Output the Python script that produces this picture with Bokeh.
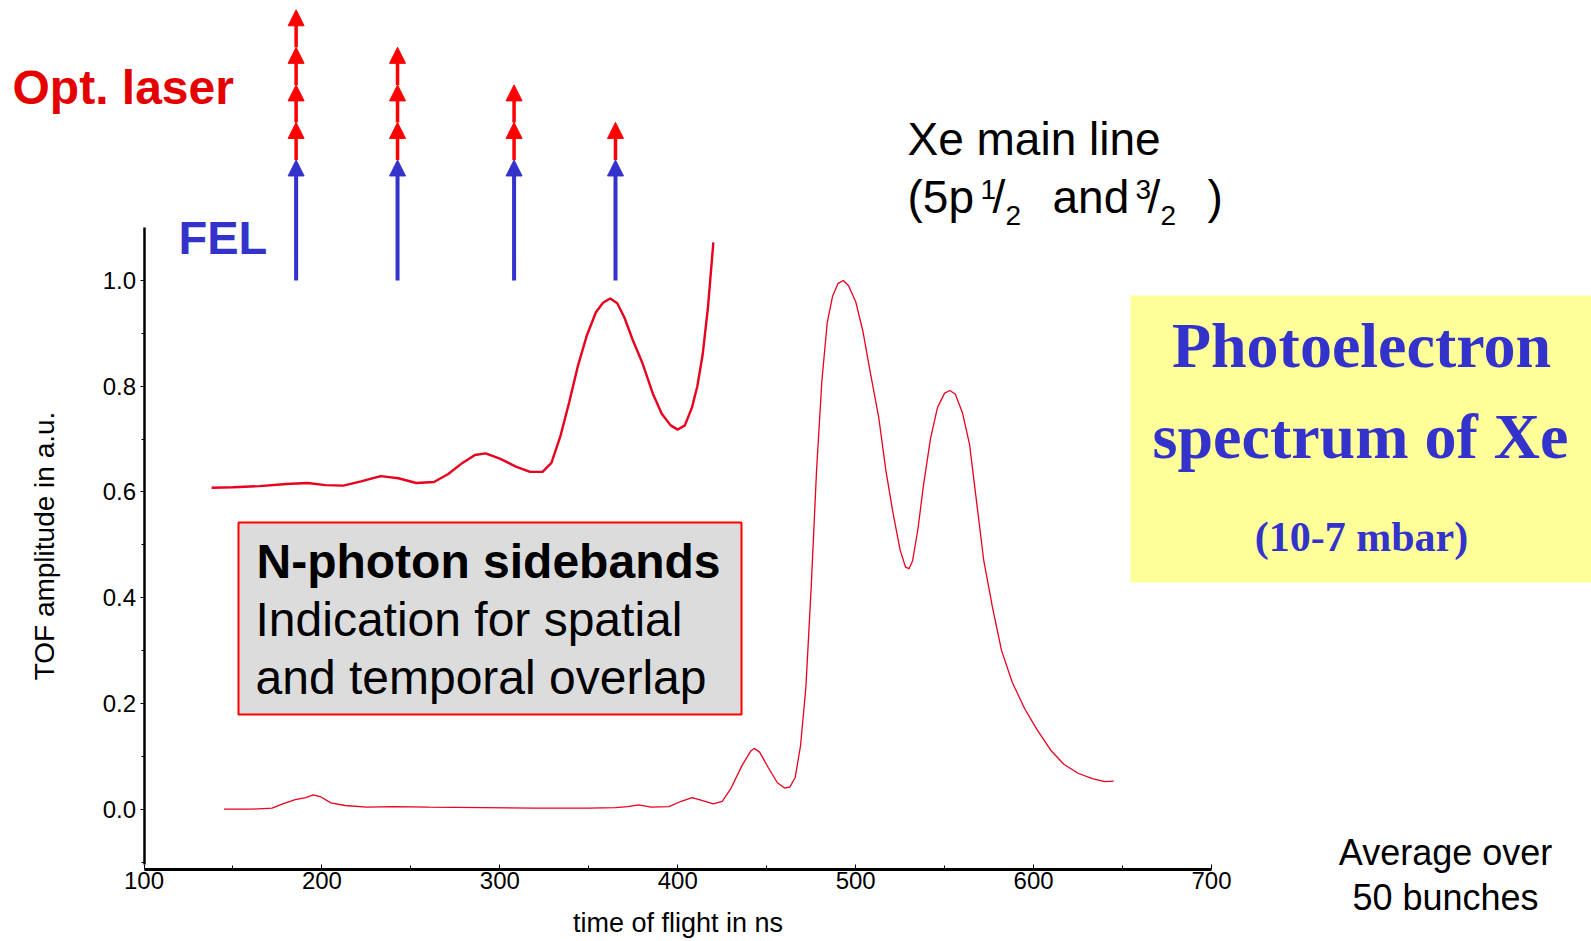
import math
from bokeh.plotting import figure
from bokeh.models import (Range1d, LinearAxis, FixedTicker, PrintfTickFormatter,
                          Arrow, NormalHead, ColumnDataSource)
from bokeh.core.properties import value
from bokeh.embed import file_html
from bokeh.resources import INLINE

# ---------------- data ----------------
# upper trace: FEL + optical laser (offset), time of flight in ns / amplitude
upper_t = [138, 150, 165, 180, 192, 202, 212, 222, 233, 243, 253, 263, 271, 279, 286,
           292, 300, 309, 317, 324, 329, 334, 339, 344, 349, 354, 358, 362, 366, 370,
           375, 380, 386, 391, 396, 400, 404, 408, 411, 414, 417, 420]
upper_a = [0.608, 0.609, 0.611, 0.615, 0.617, 0.613, 0.612, 0.620, 0.630, 0.626, 0.617,
           0.619, 0.634, 0.655, 0.670, 0.673, 0.663, 0.648, 0.638, 0.638, 0.655, 0.705,
           0.770, 0.840, 0.897, 0.940, 0.958, 0.966, 0.957, 0.930, 0.885, 0.845, 0.786,
           0.748, 0.726, 0.718, 0.726, 0.760, 0.800, 0.860, 0.950, 1.072]

# lower trace: Xe photoelectron spectrum
lower_t = [145, 160, 172, 178, 185, 191, 195, 199, 205, 213, 225, 240, 260, 290, 320,
           350, 365, 372, 378, 385, 395, 402, 408, 414, 420, 425, 430, 436, 441, 443,
           446, 451, 456, 460, 463, 466, 469, 472, 475, 478, 481, 484, 487, 490, 493,
           496, 500, 504, 508, 513, 517, 521, 525, 528, 530, 532, 535, 538, 542, 546,
           550, 553, 556, 560, 564, 568, 572, 577, 582, 588, 595, 602, 610, 617, 625,
           633, 640, 645]
lower_a = [0.000, 0.000, 0.002, 0.010, 0.018, 0.022, 0.027, 0.024, 0.012, 0.007, 0.004,
           0.005, 0.004, 0.003, 0.002, 0.002, 0.003, 0.005, 0.008, 0.004, 0.005, 0.015,
           0.022, 0.016, 0.010, 0.015, 0.040, 0.082, 0.110, 0.115, 0.108, 0.078, 0.050,
           0.040, 0.042, 0.060, 0.120, 0.230, 0.420, 0.640, 0.810, 0.920, 0.970, 0.994,
           1.000, 0.990, 0.960, 0.905, 0.830, 0.740, 0.640, 0.560, 0.490, 0.458, 0.455,
           0.470, 0.530, 0.610, 0.700, 0.760, 0.787, 0.792, 0.785, 0.750, 0.690, 0.580,
           0.470, 0.380, 0.300, 0.240, 0.190, 0.150, 0.110, 0.085, 0.068, 0.058, 0.052,
           0.053]

# sideband arrows: FEL photon + number of optical-laser photons
sideband_t = [185.5, 242.5, 308.0, 365.0]
laser_photons = [4, 3, 2, 1]
fel_base = 1.0
fel_top = 1.228
photon_step = 0.071

x_ticks = [100, 200, 300, 400, 500, 600, 700]
x_minor = [150, 250, 350, 450, 550, 650]
y_ticks = [0.0, 0.2, 0.4, 0.6, 0.8, 1.0]
y_minor = [-0.1, 0.1, 0.3, 0.5, 0.7, 0.9]

# ---------------- layout ----------------
W, H = 1591, 941
PX_NS = 1.7792      # pixels per ns
PX_A = 528.7        # pixels per amplitude unit
X0_PAGE = 143.5     # page x of t = 100
Y0_PAGE = 808.7     # page y of a = 0


def tx(px):
    return 100 + (px - X0_PAGE) / PX_NS


def ay(py):
    return (Y0_PAGE - py) / PX_A


RED = "#e8001e"
BLUE = "#3333cc"
SANS = "Liberation Sans"
SERIF = "Liberation Serif"

p = figure(width=W, height=H,
           x_range=Range1d(tx(0), tx(W)), y_range=Range1d(ay(H), ay(0)),
           x_axis_type=None, y_axis_type=None, toolbar_location=None,
           output_backend="svg", min_border=0, outline_line_color=None,
           background_fill_color="white", border_fill_color="white")

# boxes
p.quad(left=[tx(1130)], right=[tx(1600)], top=[ay(295)], bottom=[ay(582)],
       fill_color="#ffff99", line_color=None)
p.quad(left=[tx(238)], right=[tx(741)], top=[ay(522)], bottom=[ay(714)],
       fill_color="#dcdcdc", line_color="#ff0000", line_width=2)

# axes
xaxis = LinearAxis(fixed_location=ay(869), bounds=(100, 700),
                   ticker=FixedTicker(ticks=x_ticks, minor_ticks=x_minor),
                   axis_line_width=3, axis_line_color="black",
                   major_tick_in=5, major_tick_out=0, minor_tick_in=4, minor_tick_out=0,
                   major_tick_line_color="black", minor_tick_line_color="black",
                   major_label_text_font=SANS, major_label_text_font_size="24px",
                   major_label_text_color="black", major_label_standoff=2,
                   axis_label="time of flight in ns", axis_label_text_font=SANS,
                   axis_label_text_font_size="27px", axis_label_text_font_style="normal",
                   axis_label_text_color="black", axis_label_standoff=16)
p.add_layout(xaxis, "below")

yaxis = LinearAxis(fixed_location=100, bounds=(-0.105, 1.1),
                   ticker=FixedTicker(ticks=y_ticks, minor_ticks=y_minor),
                   formatter=PrintfTickFormatter(format="%.1f"),
                   axis_line_width=2.5, axis_line_color="black",
                   major_tick_in=0, major_tick_out=4, minor_tick_in=0, minor_tick_out=3,
                   major_tick_line_color="black", minor_tick_line_color="black",
                   major_label_text_font=SANS, major_label_text_font_size="24px",
                   major_label_text_color="black", major_label_standoff=4,
                   axis_label="TOF amplitude in a.u.", axis_label_text_font=SANS,
                   axis_label_text_font_size="28px", axis_label_text_font_style="normal",
                   axis_label_text_color="black", axis_label_standoff=40)
p.add_layout(yaxis, "left")

# spectra
p.line(upper_t, upper_a, line_color=RED, line_width=2.4)
p.line(lower_t, lower_a, line_color=RED, line_width=1.3)

# arrows
blue_src = ColumnDataSource(dict(x0=sideband_t, y0=[fel_base] * len(sideband_t),
                                 x1=sideband_t, y1=[fel_top] * len(sideband_t)))
p.add_layout(Arrow(end=NormalHead(size=16, fill_color=BLUE, line_color=BLUE),
                   x_start="x0", y_start="y0", x_end="x1", y_end="y1",
                   source=blue_src, line_color=BLUE, line_width=4))

rx, ry0, ry1 = [], [], []
for t, n in zip(sideband_t, laser_photons):
    for k in range(n):
        rx.append(t)
        ry0.append(fel_top + k * photon_step)
        ry1.append(fel_top + (k + 1) * photon_step)
red_src = ColumnDataSource(dict(x0=rx, y0=ry0, x1=rx, y1=ry1))
p.add_layout(Arrow(end=NormalHead(size=16, fill_color="#ff0000", line_color="#ff0000"),
                   x_start="x0", y_start="y0", x_end="x1", y_end="y1",
                   source=red_src, line_color="#ff0000", line_width=3.5))


def label(text, xp, base, size, color="black", style="normal", font=SANS, align="left"):
    # base = page y of the text baseline; anchor the text at its middle
    p.text(x=[tx(xp)], y=[ay(base - 0.35 * size)], text=[text], text_font=value(font),
           text_font_style=style, text_font_size=f"{size}px", text_color=color,
           text_align=align, text_baseline="middle")


label("Opt. laser", 12, 103.5, 48, "#e50000", "bold")
label("FEL", 178, 253.5, 47, BLUE, "bold")

# Xe main line
label("Xe main line", 907, 155, 46)
label("(5p", 907, 213, 46)
label("1", 980, 199, 28)
label("/", 992, 213, 46)
label("2", 1005, 225, 28)
label("and", 1052, 213, 46)
label("3", 1135, 199, 28)
label("/", 1147, 213, 46)
label("2", 1160, 225, 28)
label(")", 1207, 213, 46)

# N-photon sidebands box
label("N-photon sidebands", 256, 578, 48, "black", "bold")
label("Indication for spatial", 255, 636, 48)
label("and temporal overlap", 255, 694, 48)

# Yellow box
label("Photoelectron", 1361, 367, 64, BLUE, "bold", SERIF, "center")
label("spectrum of Xe", 1360, 458, 64, BLUE, "bold", SERIF, "center")
label("(10-7 mbar)", 1361, 551, 42, BLUE, "bold", SERIF, "center")

# Average note
label("Average over", 1445, 864.5, 36, align="center")
label("50 bunches", 1445, 910, 36, align="center")

open("out.html", "w").write(file_html(p, INLINE))
